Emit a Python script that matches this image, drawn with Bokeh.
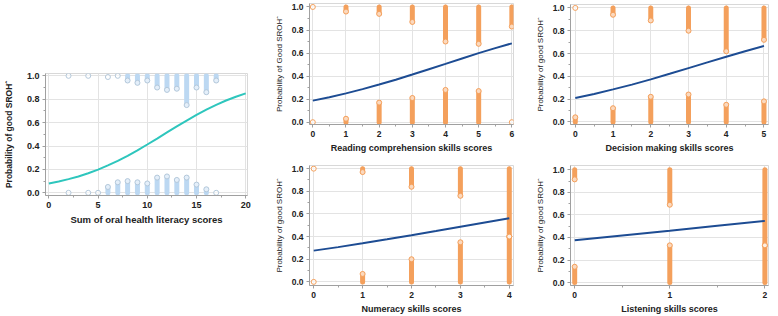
from bokeh.plotting import figure
from bokeh.layouts import row, column, Spacer
from bokeh.models import FixedTicker, Range1d, CustomJSTickFormatter
from bokeh.embed import file_html
from bokeh.resources import INLINE

NaN = float("nan")

# ---------------- data ----------------
# Panel 1: sum of oral health literacy scores
ohl_curve_x = list(range(21))
ohl_curve_y = [0.080, 0.097, 0.117, 0.140, 0.167, 0.198, 0.234, 0.273, 0.316, 0.363, 0.413,
               0.464, 0.516, 0.568, 0.618, 0.666, 0.711, 0.752, 0.789, 0.821, 0.850]
ohl_x = [2, 4, 5, 6, 7, 8, 9, 10, 11, 12, 13, 14, 15, 16, 17]
ohl_top_low = [1.0, 1.0, NaN, 0.99, 1.0, 0.96, 0.94, 0.96, 0.90, 0.88, 0.89, 0.75, 0.90, 0.86, 0.96]
ohl_bot_high = [0.0, 0.0, 0.0, 0.05, 0.09, 0.10, 0.09, 0.08, 0.13, 0.14, 0.11, 0.13, 0.07, 0.03, 0.0]

# Panel 2: reading comprehension
read_curve_x = [0, 0.5, 1, 1.5, 2, 2.5, 3, 3.5, 4, 4.5, 5, 5.5, 6]
read_curve_y = [0.187, 0.217, 0.250, 0.287, 0.327, 0.369, 0.414, 0.460, 0.506, 0.553, 0.599, 0.643, 0.684]
read_x = [0, 1, 2, 3, 4, 5, 6]
read_top_low = [1.0, 0.96, 0.94, 0.87, 0.70, 0.68, 0.83]
read_bot_high = [0.0, 0.03, 0.17, 0.21, 0.28, 0.27, 0.0]

# Panel 3: decision making
dec_curve_x = [0, 0.5, 1, 1.5, 2, 2.5, 3, 3.5, 4, 4.5, 5]
dec_curve_y = [0.210, 0.245, 0.285, 0.327, 0.373, 0.422, 0.472, 0.522, 0.572, 0.620, 0.667]
dec_x = [0, 1, 2, 3, 4, 5]
dec_top_low = [1.0, 0.94, 0.89, 0.80, 0.62, 0.72]
dec_bot_high = [0.04, 0.12, 0.22, 0.24, 0.15, 0.18]

# Panel 4: numeracy
num_curve_x = [0, 0.5, 1, 1.5, 2, 2.5, 3, 3.5, 4]
num_curve_y = [0.276, 0.307, 0.341, 0.376, 0.412, 0.449, 0.487, 0.525, 0.563]
num_x = [0, 1, 2, 3, 4]
num_top_low = [1.0, 0.97, 0.84, 0.76, 0.40]
num_bot_high = [0.0, 0.07, 0.20, 0.35, 0.40]

# Panel 5: listening
lis_curve_x = [0, 0.5, 1, 1.5, 2]
lis_curve_y = [0.376, 0.418, 0.460, 0.504, 0.547]
lis_x = [0, 1, 2]
lis_top_low = [0.915, 0.69, 0.33]
lis_bot_high = [0.14, 0.33, 0.33]

# ---------------- styling ----------------
FONT = "Liberation Sans"
ORANGE = "#f4a05c"
NAVY = "#1d4c93"
TEAL = "#2ec6bd"
LBLUE = "#bcd8f2"
LBLUE_EDGE = "#b4c8da"


def make_fig(w, h, xr, yr, borders, xticks, xminor, xlabel, ylabel,
             tick_size, ylabel_bold, ylabel_size, xlabel_size, ylab_standoff):
    left, right, top, bottom = borders
    p = figure(width=w, height=h, x_range=Range1d(*xr), y_range=Range1d(*yr),
               output_backend="svg", toolbar_location=None,
               min_border_left=left, min_border_right=right,
               min_border_top=top, min_border_bottom=bottom)
    p.background_fill_color = "white"
    p.border_fill_color = "white"
    p.outline_line_color = "#d8d8d8"
    p.xaxis.ticker = FixedTicker(ticks=xticks, minor_ticks=xminor)
    p.yaxis.ticker = FixedTicker(ticks=[0, 0.2, 0.4, 0.6, 0.8, 1.0],
                                 minor_ticks=[0.1, 0.3, 0.5, 0.7, 0.9])
    for ax in (p.xaxis[0], p.yaxis[0]):
        ax.axis_line_color = "#a0a0a0"
        ax.major_tick_line_color = "#a0a0a0"
        ax.minor_tick_line_color = "#a0a0a0"
        ax.major_tick_out = 3
        ax.major_tick_in = 0
        ax.minor_tick_out = 2
        ax.minor_tick_in = 0
        ax.major_label_text_font = FONT
        ax.major_label_text_font_style = "bold"
        ax.major_label_text_font_size = tick_size
        ax.major_label_text_color = "#222222"
        ax.axis_label_text_font = FONT
        ax.axis_label_text_color = "#222222"
        ax.major_label_standoff = 3
    p.yaxis.formatter = CustomJSTickFormatter(code="return tick.toFixed(1);")
    p.xaxis.axis_label = xlabel
    p.xaxis.axis_label_text_font_style = "bold"
    p.xaxis.axis_label_text_font_size = xlabel_size
    p.xaxis.axis_label_standoff = 3
    p.yaxis.axis_label = ylabel
    p.yaxis.axis_label_text_font_style = "bold" if ylabel_bold else "normal"
    p.yaxis.axis_label_text_font_size = ylabel_size
    p.yaxis.axis_label_standoff = ylab_standoff
    p.grid.grid_line_color = "#e3e3e3"
    p.grid.grid_line_width = 1
    return p


def draw_rug(p, xs, top_low, bot_high, color, edge, width):
    sx0, sy0, sy1 = [], [], []
    cx, cy = [], []
    for x, t, b in zip(xs, top_low, bot_high):
        if t == t:
            if t < 0.985:
                sx0.append(x); sy0.append(t); sy1.append(1.0)
            cx.append(x); cy.append(t)
        if b == b:
            if b > 0.015:
                sx0.append(x); sy0.append(0.0); sy1.append(b)
            cx.append(x); cy.append(b)
    p.segment(x0=sx0, y0=sy0, x1=sx0, y1=sy1, line_color=color,
              line_width=width, line_cap="round")
    p.scatter(x=cx, y=cy, marker="circle", size=width, fill_color="white",
              fill_alpha=0.6, line_color=edge, line_width=1)


# Panel 1
p1 = make_fig(255, 200, (-0.34, 20.18), (-0.023, 1.02), (45, 8, 43, 35),
              [0, 5, 10, 15, 20], [2.5, 7.5, 12.5, 17.5],
              "Sum of oral health literacy scores", "Probability of good SROHˆ",
              "9px", True, "8.5px", "9.5px", 10)
draw_rug(p1, ohl_x, ohl_top_low, ohl_bot_high, LBLUE, LBLUE_EDGE, 5)
p1.line(ohl_curve_x, ohl_curve_y, line_color=TEAL, line_width=2)

# Panel 2
p2 = make_fig(260, 155, (-0.1, 6.05), (-0.02, 1.03), (54, 2, 3, 29),
              [0, 1, 2, 3, 4, 5, 6], [0.5, 1.5, 2.5, 3.5, 4.5, 5.5],
              "Reading comprehension skills scores", "Probability of Good SROHˆ",
              "8.5px", False, "8px", "9px", 5)
draw_rug(p2, read_x, read_top_low, read_bot_high, ORANGE, ORANGE, 5)
p2.line(read_curve_x, read_curve_y, line_color=NAVY, line_width=2)

# Panel 3
p3 = make_fig(263, 155, (-0.127, 5.12), (-0.023, 1.03), (47, 10, 4, 29),
              [0, 1, 2, 3, 4, 5], [0.5, 1.5, 2.5, 3.5, 4.5],
              "Decision making skills scores", "Probability of good SROHˆ",
              "8.5px", False, "8px", "9px", 5)
draw_rug(p3, dec_x, dec_top_low, dec_bot_high, ORANGE, ORANGE, 5)
p3.line(dec_curve_x, dec_curve_y, line_color=NAVY, line_width=2)

# Panel 4
p4 = make_fig(260, 161, (-0.086, 4.086), (-0.032, 1.028), (51, 2, 10, 28),
              [0, 1, 2, 3, 4], [0.5, 1.5, 2.5, 3.5],
              "Numeracy skills scores", "Probability of good SROHˆ",
              "8.5px", False, "8px", "9px", 5)
draw_rug(p4, num_x, num_top_low, num_bot_high, ORANGE, ORANGE, 5)
p4.line(num_curve_x, num_curve_y, line_color=NAVY, line_width=2)

# Panel 5
p5 = make_fig(263, 161, (-0.044, 2.038), (-0.026, 1.038), (55, 6, 10, 30),
              [0, 1, 2], [0.5, 1.5],
              "Listening skills scores", "Probability of good SROHˆ",
              "8.5px", False, "8px", "9px", 5)
draw_rug(p5, lis_x, lis_top_low, lis_bot_high, ORANGE, ORANGE, 5)
p5.line(lis_curve_x, lis_curve_y, line_color=NAVY, line_width=2)

col1 = column(Spacer(width=255, height=30), p1, Spacer(width=255, height=86))
col2 = column(p2, p4)
col3 = column(p3, p5)
layout = row(col1, col2, col3)

open("out.html", "w").write(file_html(layout, INLINE))
